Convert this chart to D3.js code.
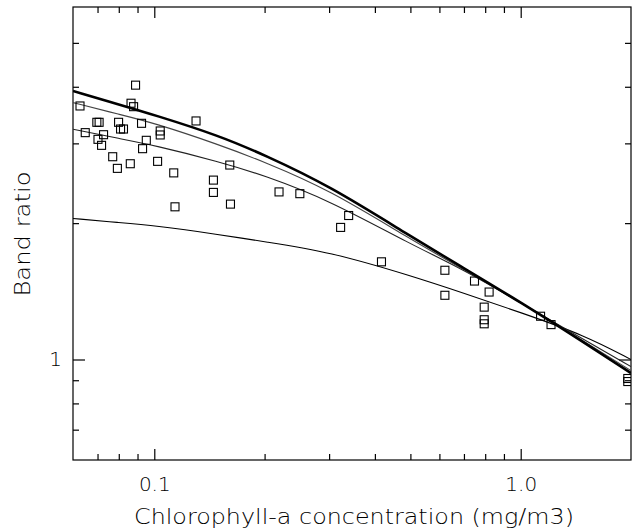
<!DOCTYPE html>
<html>
<head>
<meta charset="utf-8">
<script src="https://cdn.jsdelivr.net/npm/d3@7"></script>
<style>
  body { margin: 0; background: #fff; }
  text { font-family: "DejaVu Sans", sans-serif; font-weight: 200; fill: #000; }
</style>
</head>
<body>
<script>
// measured points: chlorophyll (mg/m3) vs band ratio
var chl = [0.0889, 0.0627, 0.0864, 0.0878, 0.0697, 0.0707, 0.0799, 0.0809, 0.0824, 0.0923,
  0.1038, 0.1038, 0.130, 0.0648, 0.0727, 0.0702, 0.0951, 0.0718, 0.0929, 0.077,
  0.1021, 0.086, 0.0793, 0.113, 0.145, 0.145, 0.1607, 0.1139, 0.1614, 0.219,
  0.2496, 0.3392, 0.3225, 0.4169, 0.621, 0.621, 0.748, 0.820, 0.795, 0.795,
  0.795, 1.133, 1.210, 1.96, 1.96];
var ratio = [4.033, 3.628, 3.679, 3.615, 3.339, 3.339, 3.339, 3.227, 3.227, 3.322,
  3.195, 3.131, 3.362, 3.168, 3.135, 3.062, 3.047, 2.970, 2.920, 2.803,
  2.738, 2.705, 2.642, 2.582, 2.489, 2.338, 2.687, 2.173, 2.203, 2.344,
  2.323, 2.079, 1.957, 1.643, 1.574, 1.386, 1.490, 1.409, 1.305, 1.224,
  1.199, 1.246, 1.194, 0.908, 0.894];

// model curves, read at these chlorophyll values
var curveChl = [0.06, 0.08, 0.1, 0.15, 0.2, 0.3, 0.5, 0.7, 1.0, 1.5, 2.0];
var curveA = [3.916, 3.657, 3.466, 3.122, 2.827, 2.420, 1.871, 1.590, 1.337, 1.087, 0.933];
var curveB = [3.690, 3.478, 3.327, 2.982, 2.729, 2.371, 1.843, 1.578, 1.337, 1.093, 0.945];
var curveC = [3.224, 3.076, 2.970, 2.735, 2.547, 2.247, 1.797, 1.578, 1.334, 1.102, 0.965];
var curveD = [2.048, 2.006, 1.975, 1.888, 1.820, 1.729, 1.532, 1.400, 1.270, 1.130, 1.000];

var xMajor = [0.1, 1.0];
var xMinor = [0.07, 0.08, 0.09, 0.2, 0.3, 0.4, 0.5, 0.6, 0.7, 0.8, 0.9];
var yMajor = [1];
var yMinor = [0.7, 0.8, 0.9, 2, 3, 4, 5];

const width = 635, height = 532;
const mLeft = 73, mRight = 631, mTop = 7, mBottom = 460;

const svg = d3.select("body").append("svg")
  .attr("width", width)
  .attr("height", height);

const x = d3.scaleLog().domain([0.06, 2]).range([mLeft, mRight]);
const y = d3.scaleLog().domain([0.6, 6]).range([mBottom, mTop]);

svg.append("clipPath").attr("id", "plot")
  .append("rect")
  .attr("x", mLeft).attr("y", mTop)
  .attr("width", mRight - mLeft).attr("height", mBottom - mTop);

// frame
svg.append("rect")
  .attr("x", mLeft).attr("y", mTop)
  .attr("width", mRight - mLeft).attr("height", mBottom - mTop)
  .attr("fill", "none")
  .attr("stroke", "#000")
  .attr("stroke-width", 1.2);

// ticks, all pointing into the plot
function ticks(axis, pos, vals, size, fmt, pad) {
  var g = svg.append("g")
    .attr("transform", pos)
    .call(axis.tickValues(vals).tickSize(size).tickPadding(pad).tickFormat(fmt));
  g.select(".domain").remove();
  g.selectAll("line").attr("stroke-width", 1.2);
  g.selectAll("text").style("font-size", "20px").attr("font-family", null);
  return g;
}
var none = function() { return ""; };
ticks(d3.axisBottom(x), "translate(0," + mBottom + ")", xMinor, -6, none, 0);
ticks(d3.axisBottom(x), "translate(0," + mBottom + ")", xMajor, -11, d3.format(".1f"), 17);
ticks(d3.axisTop(x), "translate(0," + mTop + ")", xMinor, -6, none, 0);
ticks(d3.axisTop(x), "translate(0," + mTop + ")", xMajor, -11, none, 0);
ticks(d3.axisLeft(y), "translate(" + mLeft + ",0)", yMinor, -6, none, 0);
ticks(d3.axisLeft(y), "translate(" + mLeft + ",0)", yMajor, -12, d3.format("d"), 11);
ticks(d3.axisRight(y), "translate(" + mRight + ",0)", yMinor, -6, none, 0);
ticks(d3.axisRight(y), "translate(" + mRight + ",0)", yMajor, -12, none, 0);

// curves
const line = d3.line()
  .x(function(d) { return x(d[0]); })
  .y(function(d) { return y(d[1]); })
  .curve(d3.curveBasis);

var curves = [
  { v: curveD, w: 1.1, c: "#000" },
  { v: curveC, w: 1.1, c: "#222" },
  { v: curveB, w: 1.1, c: "#444" },
  { v: curveA, w: 2.6, c: "#000" }
];
svg.append("g").attr("clip-path", "url(#plot)")
  .selectAll("path")
  .data(curves)
  .enter()
  .append("path")
  .attr("d", function(c) { return line(d3.zip(curveChl, c.v)); })
  .attr("fill", "none")
  .attr("stroke", function(c) { return c.c; })
  .attr("stroke-width", function(c) { return c.w; });

// data squares
const s = 8;
svg.append("g").attr("clip-path", "url(#plot)")
  .selectAll("rect")
  .data(d3.zip(chl, ratio))
  .enter()
  .append("rect")
  .attr("x", function(d) { return x(d[0]) - s / 2; })
  .attr("y", function(d) { return y(d[1]) - s / 2; })
  .attr("width", s)
  .attr("height", s)
  .attr("fill", "none")
  .attr("stroke", "#000")
  .attr("stroke-width", 1.1);

// axis titles
svg.append("text")
  .attr("x", (mLeft + mRight) / 2 + 2)
  .attr("y", 524)
  .attr("text-anchor", "middle")
  .attr("textLength", 440)
  .attr("lengthAdjust", "spacingAndGlyphs")
  .style("font-size", "21px")
  .text("Chlorophyll-a concentration (mg/m3)");

svg.append("text")
  .attr("transform", "translate(30,234) rotate(-90)")
  .attr("text-anchor", "middle")
  .attr("textLength", 125)
  .attr("lengthAdjust", "spacingAndGlyphs")
  .style("font-size", "21px")
  .text("Band ratio");
</script>
</body>
</html>
